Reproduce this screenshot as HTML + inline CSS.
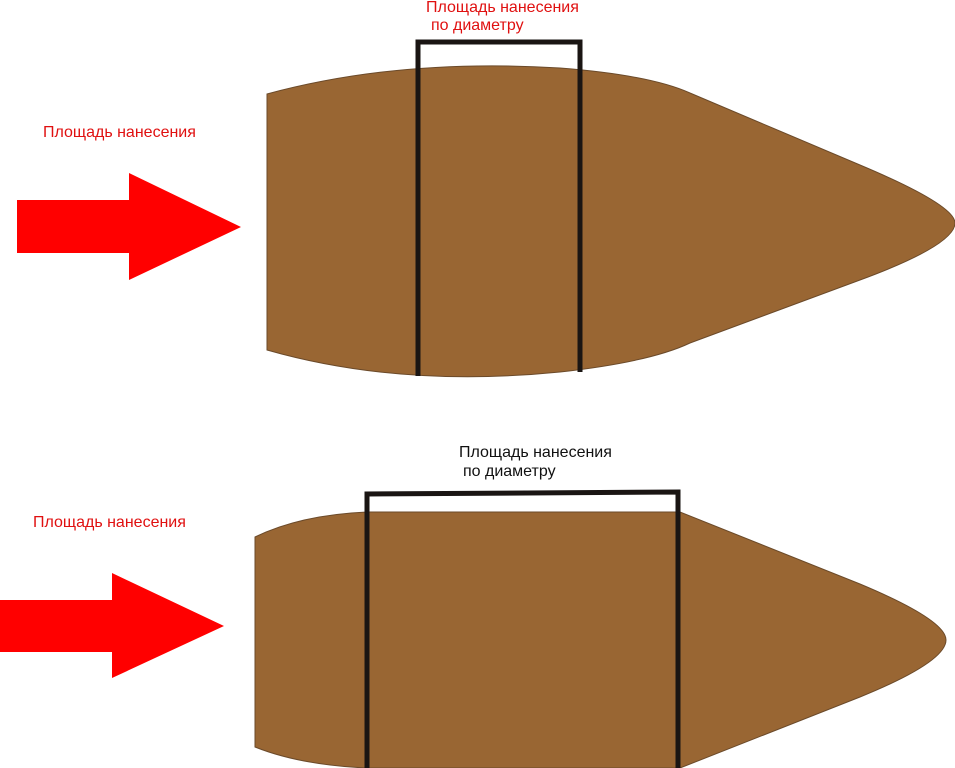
<!DOCTYPE html>
<html><head><meta charset="utf-8"><style>
html,body{margin:0;padding:0;background:#fff;width:955px;height:768px;overflow:hidden}
svg{display:block}
text{font-family:"Liberation Sans",sans-serif;font-size:16px}
</style></head><body>
<svg width="955" height="768" viewBox="0 0 955 768">
<!-- top shape -->
<path d="M267,94 Q400,58 560,68 Q650,75 690,93 L860,165 Q955,205 955,223 Q955,245 860,280 L690,343 Q650,362 560,372 Q400,388 267,350 Z" fill="#996633" stroke="#6b4a2a" stroke-width="1"/>
<path d="M418,376 L418,42 L580,42 L580,372" fill="none" stroke="#1a1513" stroke-width="5"/>
<polygon points="17,200 129,200 129,173 241,227 129,280 129,253 17,253" fill="#ff0000"/>
<text x="43" y="137" fill="#e01010">Площадь нанесения</text>
<text x="426" y="12" fill="#e01010">Площадь нанесения</text>
<text x="431" y="30" fill="#e01010">по диаметру</text>
<!-- bottom shape -->
<path d="M255,537 Q300,515 367,512 L680,512 L860,584 Q946,620 946,640 Q946,662 860,697 L680,768 L367,768 Q300,765 255,747 Z" fill="#996633" stroke="#6b4a2a" stroke-width="1"/>
<path d="M367,768 L367,494 L678,492 L678,768" fill="none" stroke="#1a1513" stroke-width="5"/>
<polygon points="0,600 112,600 112,573 224,626 112,678 112,652 0,652" fill="#ff0000"/>
<text x="33" y="527" fill="#e01010">Площадь нанесения</text>
<text x="459" y="457" fill="#111">Площадь нанесения</text>
<text x="463" y="476" fill="#111">по диаметру</text>
</svg>
</body></html>
